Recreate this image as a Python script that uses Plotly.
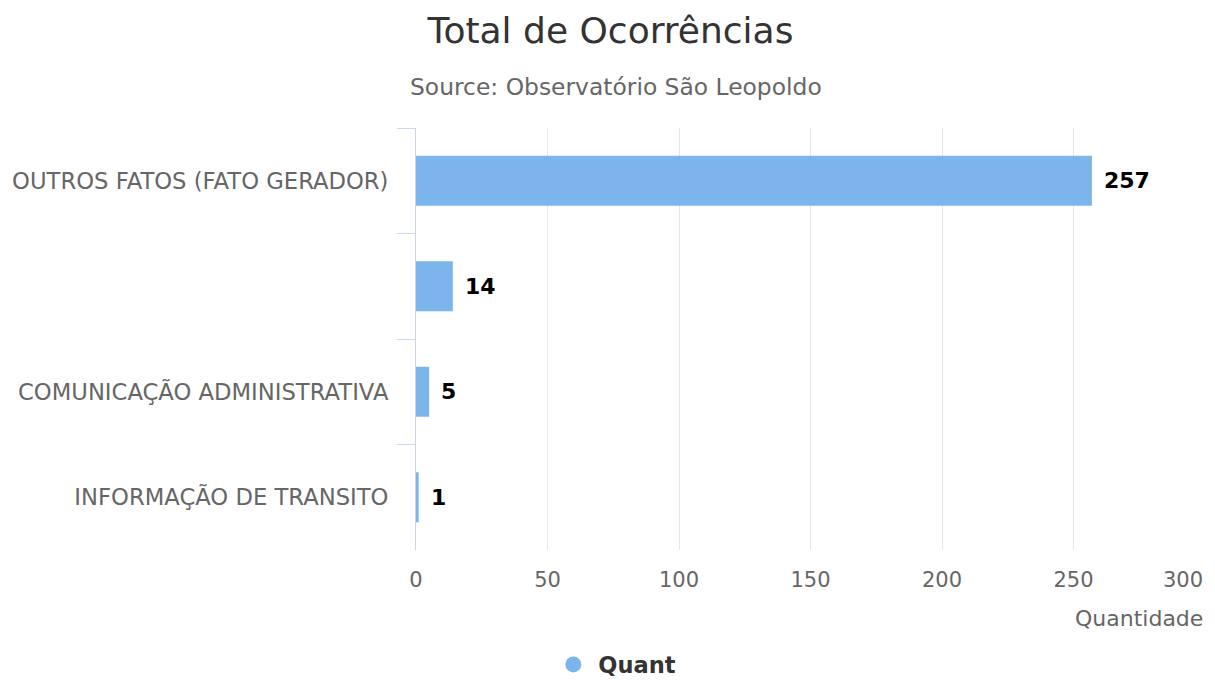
import plotly.graph_objects as go

categories = [
    "OUTROS FATOS (FATO GERADOR)",
    " ",
    "COMUNICAÇÃO ADMINISTRATIVA",
    "INFORMAÇÃO DE TRANSITO",
]
values = [257, 14, 5, 1]
x_ticks = [0, 50, 100, 150, 200, 250, 300]

BAR_COLOR = "#7cb5ec"
FONT = "DejaVu Sans"

fig = go.Figure()
fig.add_trace(go.Bar(
    y=categories,
    x=values,
    orientation="h",
    name="Quant",
    marker=dict(color=BAR_COLOR, line=dict(width=0)),
    width=0.474,
    showlegend=False,
    hovertemplate="%{y}: %{x}<extra></extra>",
))
# legend entry drawn as a circle, like the original
fig.add_trace(go.Scatter(
    x=[None], y=[None],
    mode="markers",
    name="Quant",
    marker=dict(color=BAR_COLOR, size=16, symbol="circle"),
    showlegend=True,
))

# value labels just right of each bar
annotations = []
for cat, val in zip(categories, values):
    annotations.append(dict(
        x=val, y=cat, xref="x", yref="y",
        text=f"<b>{val}</b>", showarrow=False,
        xanchor="left", yanchor="middle", xshift=10,
        font=dict(family=FONT, size=22, color="#000000"),
    ))

# last tick label is kept inside the chart (right-aligned), like the original
tick_text = [str(t) for t in x_ticks[:-1]] + [""]
annotations.append(dict(
    x=x_ticks[-1], y=0, xref="x", yref="paper",
    text=str(x_ticks[-1]), showarrow=False,
    xanchor="right", yanchor="middle", yshift=-30,
    font=dict(family=FONT, size=21, color="#666666"),
))

annotations += [
    dict(
        text="Source: Observatório São Leopoldo",
        xref="paper", yref="paper", x=0.254, y=1.0, yshift=41,
        xanchor="center", yanchor="middle", showarrow=False,
        font=dict(family=FONT, size=23.4, color="#666666"),
    ),
    dict(
        text="Quantidade",
        xref="paper", yref="paper", x=1.0, y=0, yshift=-68,
        xanchor="right", yanchor="middle", showarrow=False,
        font=dict(family=FONT, size=22, color="#666666"),
    ),
]

fig.update_layout(
    width=1199,
    height=676,
    paper_bgcolor="white",
    plot_bgcolor="white",
    margin=dict(l=408, r=2, t=120, b=134, autoexpand=False),
    title=dict(
        text="Total de Ocorrências",
        xref="paper", x=0.2465, xanchor="center", y=0.967, yanchor="middle",
        font=dict(family=FONT, size=36, color="#333333"),
    ),
    font=dict(family=FONT, size=22, color="#666666"),
    legend=dict(
        orientation="h", x=0.252, xanchor="center", y=-0.272, yanchor="middle",
        font=dict(family=FONT, size=22.5, color="#333333", weight="bold"),
        itemsizing="trace",
        itemwidth=40,
    ),
    xaxis=dict(
        range=[0, 300],
        tickvals=x_ticks,
        ticktext=tick_text,
        showgrid=True,
        gridcolor="#e6e6e6",
        gridwidth=1,
        zeroline=False,
        showline=False,
        ticks="",
        tickfont=dict(family=FONT, size=21, color="#666666"),
        ticklabelstandoff=15,
    ),
    yaxis=dict(
        autorange="reversed",
        showline=True,
        linecolor="#ccd6eb",
        linewidth=1,
        ticks="outside",
        tickson="boundaries",
        ticklen=18,
        tickcolor="#ccd6eb",
        showgrid=False,
        tickfont=dict(family=FONT, size=22.7, color="#666666"),
        ticklabelstandoff=22,
    ),
    annotations=annotations,
)

fig.write_html("out.html")
